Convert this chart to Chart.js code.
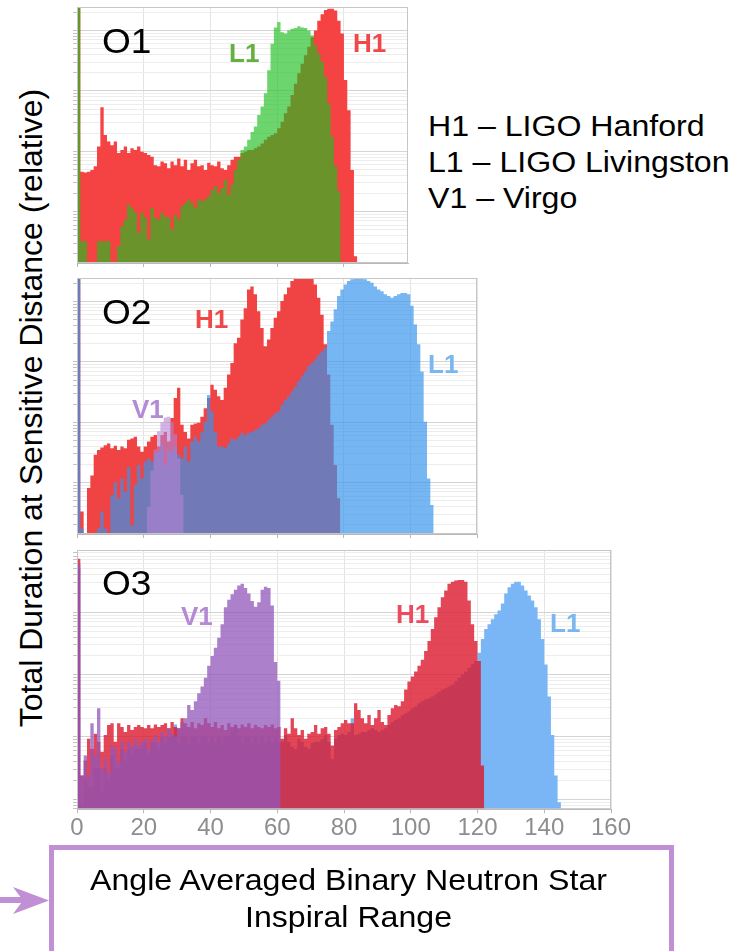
<!DOCTYPE html>
<html>
<head>
<meta charset="utf-8">
<script src="https://cdn.jsdelivr.net/npm/chart.js@4.4.1/dist/chart.umd.min.js"></script>
<style>
  body { margin: 0; background: #fff; width: 730px; height: 951px; overflow: hidden; position: relative; font-family: "Liberation Sans", Arial, sans-serif; }
  canvas { position: absolute; }
  .txt { position: absolute; white-space: nowrap; transform-origin: 0 0; }
  .run { font-size: 35px; line-height: 35px; color: #000; transform: scaleX(1.06); }
  .det { font-size: 26px; line-height: 26px; font-weight: bold; }
</style>
</head>
<body>
<canvas id="o1" width="339" height="262" style="left:73px;top:5px"></canvas>
<canvas id="o2" width="408" height="262" style="left:73px;top:276px"></canvas>
<canvas id="o3" width="578" height="300" style="left:63px;top:548px"></canvas>

<div class="txt run" style="left:102px;top:23px">O1</div>
<div class="txt run" style="left:102px;top:294px">O2</div>
<div class="txt run" style="left:102px;top:565px">O3</div>

<div class="txt det" style="left:229px;top:40px;color:#64b040">L1</div>
<div class="txt det" style="left:353px;top:30px;color:#f04848">H1</div>
<div class="txt det" style="left:195px;top:306px;color:#f04848">H1</div>
<div class="txt det" style="left:132px;top:396px;color:#b48ad4">V1</div>
<div class="txt det" style="left:428px;top:351px;color:#7ab6f0">L1</div>
<div class="txt det" style="left:181px;top:603px;color:#b48ad4">V1</div>
<div class="txt det" style="left:396px;top:601px;color:#ec4a5e">H1</div>
<div class="txt det" style="left:550px;top:610px;color:#7ab6f0">L1</div>

<div class="txt" style="left:428px;top:108px;font-size:30px;line-height:36px;transform:scaleX(1.07)">H1 – LIGO Hanford<br>L1 – LIGO Livingston<br>V1 – Virgo</div>

<div class="txt" style="left:-319px;top:392px;width:700px;height:32px;font-size:32px;line-height:32px;text-align:center;transform-origin:50% 50%;transform:rotate(-90deg)">Total Duration at Sensitive Distance (relative)</div>

<svg style="position:absolute;left:0;top:880px" width="60" height="40">
  <rect x="0" y="17" width="26" height="6" fill="#c08fd4"></rect>
  <polygon points="49,20.5 13,7 23,20.5 13,34" fill="#c08fd4"></polygon>
</svg>
<div style="position:absolute;left:49px;top:845px;width:625px;height:130px;box-sizing:border-box;border:5px solid #c08fd4"></div>
<div class="txt" style="left:48px;top:861px;width:601px;text-align:center;font-size:30px;line-height:37px;transform-origin:50% 0;transform:scaleX(1.07)">Angle Averaged Binary Neutron Star<br>Inspiral Range</div>

<script>
// log10 of relative time spent in each 1 Mpc range bin, bins start at 0 Mpc
const o1H1 = [4.38,1.66,1.65,1.66,1.69,1.75,2.08,2.73,2.27,2.16,2.10,2.16,1.97,2.02,2.08,1.97,2.05,2.02,2.08,1.99,1.97,1.94,1.91,1.77,1.75,1.83,1.80,1.72,1.83,1.77,1.88,1.75,1.86,1.69,1.80,1.86,1.75,1.77,1.69,1.81,1.77,1.75,1.83,1.72,1.69,1.77,1.86,1.91,1.91,1.97,1.99,2.02,2.02,2.05,2.08,2.13,2.19,2.24,2.27,2.30,2.38,2.49,2.63,2.74,2.93,3.12,3.29,3.45,3.59,3.73,3.89,4.00,4.16,4.27,4.34,4.36,4.36,4.33,4.16,3.95,3.18,2.68,1.69,0.26];
const o1L1 = [4.38,0.51,0.51,0,0,0,0.51,0.51,0.51,0.51,0,0,0.43,0.76,0.87,1.12,1.06,0.98,0.65,0.98,0.90,0.54,1.06,0.90,0.87,0.98,0.92,0.90,0.70,0.95,0.87,1.09,1.14,1.20,1.14,1.06,1.20,1.17,1.20,1.25,1.36,1.42,1.31,1.39,1.53,1.28,1.45,1.69,1.86,2.02,2.08,2.19,2.32,2.41,2.60,2.74,2.96,3.34,3.78,4.05,4.14,3.97,3.95,4.00,4.03,4.04,4.07,4.05,4.04,4.00,3.92,3.75,3.62,3.48,3.23,2.79,2.24,1.75,1.34];

const o2H1 = [4.45,0.52,0,0.91,1.12,1.46,1.54,1.58,1.62,1.65,1.57,1.61,1.54,1.60,1.57,1.71,1.73,1.76,1.60,1.51,1.60,1.68,1.76,1.79,1.60,1.79,1.84,1.68,2.07,2.40,2.57,1.96,1.84,1.73,1.96,1.98,1.99,2.09,2.23,2.40,2.62,2.54,2.43,2.37,2.57,2.79,2.98,3.31,3.40,3.70,3.89,4.20,4.25,4.12,3.84,3.56,3.26,3.37,3.56,3.73,3.84,4.01,4.12,4.23,4.34,4.45,4.45,4.45,4.45,4.45,4.45,4.28,4.06,3.78,3.29,2.79,1.96,1.29,0.74];
const o2L1 = [4.45,0.24,0,0,0,0,0.24,0.52,0.24,0,0.79,1.01,0.74,1.07,0.85,1.26,0.29,0.96,1.29,1.07,1.35,1.40,1.35,1.48,1.51,1.62,1.29,1.54,1.51,1.60,1.46,1.40,1.60,1.35,1.68,1.76,1.68,1.84,2.01,2.45,2.18,1.84,1.60,1.60,1.57,1.65,1.73,1.71,1.76,1.82,1.79,1.82,1.84,1.87,1.90,1.96,1.98,2.04,2.09,2.15,2.18,2.29,2.37,2.43,2.51,2.59,2.68,2.76,2.84,2.93,2.98,3.04,3.12,3.17,3.23,3.51,3.67,3.87,4.09,4.20,4.28,4.34,4.37,4.39,4.39,4.38,4.37,4.34,4.31,4.25,4.20,4.17,4.12,4.09,4.06,4.09,4.12,4.14,4.14,4.12,3.93,3.62,3.29,2.84,2.01,1.07,0.63];
const o2V1Start = 21;
const o2V1 = [0.60,1.20,1.55,1.85,2.00,2.08,2.09,2.00,1.80,1.40,0.80];

const o3H1 = [4.86,1.38,1.62,1.97,1.81,2.05,1.92,1.76,2.03,2.19,2.22,1.92,2.22,2.16,2.08,2.19,2.11,2.16,2.19,2.16,2.14,2.19,2.14,2.20,2.16,2.19,2.22,2.14,2.24,2.16,2.14,2.30,2.22,2.16,2.24,2.14,2.22,2.19,2.30,2.22,2.16,2.24,2.14,2.19,2.11,2.22,2.16,2.19,2.14,2.20,2.16,2.22,2.14,2.19,2.16,2.14,2.19,2.16,2.20,2.14,2.16,1.97,2.14,2.05,2.30,2.14,2.03,2.11,1.97,2.05,2.08,2.19,2.05,2.14,2.16,2.05,1.86,2.11,2.16,2.22,2.27,2.22,2.22,2.54,2.43,2.30,2.22,2.35,2.19,2.30,2.43,2.24,2.19,2.35,2.46,2.51,2.49,2.57,2.76,2.89,2.97,3.05,3.14,3.24,3.38,3.54,3.73,3.92,4.08,4.24,4.35,4.46,4.49,4.51,4.52,4.52,4.49,4.19,3.81,3.54,3.22,1.54];
const o3L1 = [4.70,0.90,1.30,1.20,1.20,1.50,1.50,1.10,1.50,1.30,1.70,1.50,1.50,1.80,1.60,1.80,1.70,1.80,1.80,1.80,1.90,1.70,1.90,1.90,1.80,2.00,1.90,2.00,2.00,2.20,1.90,2.00,2.00,1.90,2.00,2.00,1.90,2.00,2.00,1.90,2.00,1.90,2.00,1.90,2.00,2.00,2.10,2.20,2.00,1.90,2.00,2.00,1.90,2.00,1.90,2.00,1.90,2.00,1.90,2.00,1.90,1.92,2.03,1.92,1.84,1.81,1.97,1.92,1.84,1.81,1.90,1.92,1.92,1.97,2.03,1.92,1.65,1.97,2.03,2.05,2.03,2.08,2.30,2.03,2.05,2.08,2.08,2.11,2.14,2.11,2.08,2.11,2.14,2.19,2.24,2.27,2.30,2.35,2.38,2.41,2.46,2.49,2.54,2.57,2.60,2.62,2.65,2.68,2.72,2.76,2.78,2.81,2.84,2.89,2.95,3.00,3.05,3.11,3.17,3.22,3.35,3.57,3.73,3.81,3.89,3.97,4.03,4.14,4.30,4.40,4.46,4.49,4.49,4.43,4.35,4.27,4.19,4.08,3.89,3.57,3.16,2.65,2.03,1.38,0.95];
const o3V1 = [4.78,1.38,1.70,1.38,2.22,1.70,2.46,1.49,1.65,1.43,1.86,1.81,1.59,1.92,1.76,1.92,1.84,1.97,1.86,1.92,1.97,1.81,1.95,2.03,1.92,2.08,2.00,2.14,2.05,2.00,2.14,2.24,2.30,2.51,2.43,2.57,2.70,2.81,2.95,3.14,3.30,3.43,3.59,3.81,4.08,4.20,4.29,4.36,4.43,4.46,4.39,4.30,4.18,4.09,4.16,4.36,4.41,4.39,4.11,3.20,2.90];

const rangeTicks = [0, 20, 40, 60, 80, 100, 120, 140, 160];

Chart.defaults.font.family = "'Liberation Sans', Arial, sans-serif";

// turn a list of bin heights into step points (last point closes the final bin)
function histPoints(values, start) {
  const pts = values.map((v, i) => ({ x: start + i, y: Math.pow(10, v) }));
  pts.push({ x: start + values.length, y: Math.pow(10, values[values.length - 1]) });
  return pts;
}

function hist(values, start, color, order) {
  return {
    data: histPoints(values, start),
    stepped: true,
    fill: "start",
    backgroundColor: color,
    borderColor: "transparent",
    borderWidth: 0,
    pointRadius: 0,
    order: order,
  };
}

const frame = {
  id: "frame",
  afterDraw(chart) {
    const a = chart.chartArea;
    const c = chart.ctx;
    c.save();
    c.strokeStyle = "#c6c6c6";
    c.lineWidth = 1;
    c.strokeRect(a.left + 0.5, a.top + 0.5, a.right - a.left - 1, a.bottom - a.top - 1);
    c.restore();
  },
};

function makePanel(id, xMax, yMin, yMax, datasets, showLabels, pad) {
  const ctx = document.getElementById(id).getContext("2d");
  return new Chart(ctx, {
    type: "line",
    data: { datasets: datasets },
    plugins: [frame],
    options: {
      responsive: false,
      animation: false,
      devicePixelRatio: 1,
      layout: { padding: pad },
      plugins: { legend: { display: false }, tooltip: { enabled: false } },
      scales: {
        x: {
          type: "linear",
          min: 0,
          max: xMax,
          afterBuildTicks: (s) => {
            s.ticks = rangeTicks.filter((t) => t <= xMax).map((t) => ({ value: t }));
          },
          grid: { color: "#e4e4e4", tickColor: "#b8b8b8", tickLength: 4 },
          border: { color: "#b8b8b8" },
          ticks: {
            display: showLabels,
            color: "#8e8e8e",
            font: { size: 24 },
            padding: 1,
            autoSkip: false,
            maxRotation: 0,
          },
        },
        y: {
          type: "logarithmic",
          min: yMin,
          max: yMax,
          afterBuildTicks: (s) => {
            const t = [];
            for (let e = 0; e <= 5; e++) {
              for (let m = 1; m < 10; m++) {
                const v = m * Math.pow(10, e);
                if (v > yMin && v < yMax) t.push({ value: v, major: m === 1 });
              }
            }
            s.ticks = t;
          },
          grid: {
            color: (c) => (c.tick && c.tick.major ? "#d4d4d4" : "#ededed"),
            tickColor: "#c4c4c4",
            tickLength: 4,
          },
          border: { color: "#b8b8b8" },
          ticks: { display: false },
        },
      },
    },
  });
}

makePanel("o1", 99.2, 1.41, 24500, [
  hist(o1H1, 0, "rgb(245,66,66)", 2),
  hist(o1L1, 0, "rgba(30,190,30,0.65)", 1),
], false, { left: 0, top: 2, right: 4, bottom: 0 });

makePanel("o2", 120, 1.41, 24500, [
  hist(o2H1, 0, "rgb(240,68,68)", 3),
  hist(o2L1, 0, "rgba(53,148,237,0.68)", 2),
  hist(o2V1, o2V1Start, "rgba(180,130,215,0.6)", 1),
], false, { left: 0, top: 2, right: 4, bottom: 0 });

makePanel("o3", 160, 6.9, 100000, [
  hist(o3L1, 0, "rgb(122,182,245)", 3),
  hist(o3H1, 0, "rgba(220,25,45,0.8)", 2),
  hist(o3V1, 0, "rgba(145,85,185,0.75)", 1),
], true, { left: 10, top: 2, right: 30, bottom: 4 });
</script>
</body>
</html>
